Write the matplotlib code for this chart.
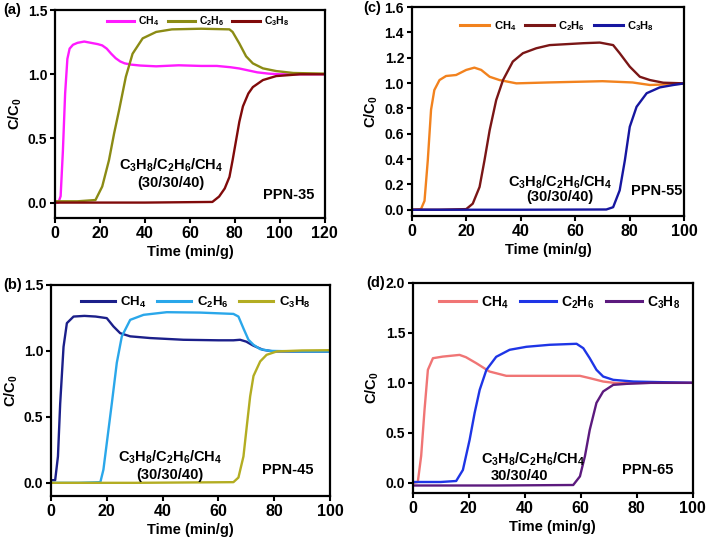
import matplotlib
matplotlib.use("Agg")
import matplotlib.pyplot as plt

plt.rcParams['font.family'] = ['Liberation Sans', 'DejaVu Sans']
plt.rcParams['font.weight'] = 'bold'
plt.rcParams['mathtext.fontset'] = 'custom'
plt.rcParams['mathtext.rm'] = 'Liberation Sans:bold'
plt.rcParams['mathtext.it'] = 'Liberation Sans:bold'
plt.rcParams['mathtext.bf'] = 'Liberation Sans:bold'
plt.rcParams['mathtext.default'] = 'rm'

# (a) PPN-35
a_ch4_x = [0, 1.5, 2.5, 3.5, 4.5, 5.5, 6.5, 8, 10, 13, 16, 19, 21, 23, 25, 27, 29, 31, 34, 38, 45, 55, 65, 72, 78, 82, 86, 90, 95, 100, 110, 120]
a_ch4_y = [0, 0, 0.05, 0.4, 0.85, 1.12, 1.2, 1.23, 1.245, 1.255, 1.245, 1.235, 1.225, 1.2, 1.16, 1.125, 1.1, 1.085, 1.075, 1.068, 1.062, 1.07, 1.065, 1.065, 1.055, 1.045, 1.03, 1.015, 1.005, 1.0, 1.0, 1.0]
a_c2h6_x = [0, 10, 18, 21, 24, 26.3, 28.5, 31.5, 34.5, 39, 45, 52, 65, 77.6, 79, 82, 85, 88, 92.5, 98.4, 106, 120]
a_c2h6_y = [0.01, 0.01, 0.02, 0.125, 0.33, 0.54, 0.72, 0.98, 1.16, 1.28, 1.33, 1.35, 1.355, 1.35, 1.33, 1.24, 1.14, 1.085, 1.046, 1.025, 1.01, 1.005]
a_c3h8_x = [0, 40, 70, 73, 75.5, 77.6, 79, 80.6, 82, 83.6, 86, 88, 92.5, 98.4, 109, 120]
a_c3h8_y = [0, 0, 0.005, 0.047, 0.11, 0.2, 0.33, 0.49, 0.63, 0.75, 0.85, 0.9, 0.955, 0.986, 1.0, 1.0]

# (b) PPN-45
b_ch4_x = [0, 1.5, 2.5, 3.3, 4.5, 5.7, 8.1, 12, 16, 20, 22.4, 24.8, 28.4, 35.6, 47.5, 60, 65.4, 67.8, 70, 72.5, 76, 79.7, 90, 100]
b_ch4_y = [0.02, 0.02, 0.2, 0.6, 1.03, 1.21, 1.26, 1.265, 1.26, 1.248, 1.185, 1.134, 1.11, 1.097, 1.084, 1.08, 1.08, 1.084, 1.07, 1.04, 1.008, 0.996, 0.995, 0.995]
b_c2h6_x = [0, 10, 17.7, 18.8, 20, 21.8, 23.6, 25.4, 28.4, 33.2, 41.5, 53.5, 65.4, 67.2, 69, 70.8, 72.6, 75, 78.5, 90, 100]
b_c2h6_y = [0, 0, 0.005, 0.1, 0.3, 0.6, 0.91, 1.11, 1.235, 1.273, 1.293, 1.29, 1.28, 1.26, 1.17, 1.084, 1.046, 1.013, 1.0, 0.995, 0.995]
b_c3h8_x = [0, 30, 65.4, 67.2, 69, 70.2, 71.4, 72.6, 75, 77.3, 81, 90, 100]
b_c3h8_y = [0, 0, 0.005, 0.04, 0.2, 0.43, 0.655, 0.81, 0.92, 0.97, 0.996, 1.003, 1.005]

# (c) PPN-55
c_ch4_x = [0, 3.4, 4.7, 5.9, 7.1, 8.3, 10.2, 12.6, 16.3, 20, 23, 25.5, 28.6, 32.2, 38.4, 50, 60, 70, 81, 87.4, 100]
c_ch4_y = [0, 0.005, 0.07, 0.39, 0.79, 0.945, 1.024, 1.056, 1.064, 1.104, 1.122, 1.104, 1.05, 1.024, 0.998, 1.005, 1.01, 1.015, 1.005, 0.985, 0.995]
c_c2h6_x = [0, 10, 20, 22.4, 24.9, 26.7, 28.6, 31, 33.5, 37.1, 40.8, 45.7, 50.6, 62.9, 69, 73.9, 76.3, 80, 83.7, 87.4, 92.3, 100]
c_c2h6_y = [0, 0, 0.005, 0.048, 0.18, 0.39, 0.628, 0.866, 1.024, 1.17, 1.236, 1.275, 1.3, 1.315, 1.32, 1.3, 1.236, 1.13, 1.05, 1.024, 1.003, 0.998]
c_c3h8_x = [0, 40, 71.4, 73.9, 76.3, 78.2, 80, 82.5, 86.2, 91, 96, 100]
c_c3h8_y = [0, 0, 0.002, 0.02, 0.153, 0.39, 0.655, 0.813, 0.92, 0.966, 0.985, 0.998]

# (d) PPN-65
d_ch4_x = [0, 1.8, 3, 4.2, 5.4, 7.2, 10.7, 16.7, 19, 22.7, 27.4, 33.4, 49, 59.7, 63.2, 68, 72.8, 85, 100]
d_ch4_y = [0, 0.01, 0.27, 0.73, 1.13, 1.246, 1.262, 1.279, 1.256, 1.196, 1.113, 1.07, 1.07, 1.07, 1.047, 1.013, 0.997, 1.0, 1.0]
d_c2h6_x = [0, 10, 15.5, 17.9, 20.3, 22.1, 23.9, 26.3, 29.8, 34.6, 40.6, 48.9, 58.5, 60.9, 63.2, 65.6, 68, 71.6, 78.8, 100]
d_c2h6_y = [0.01, 0.01, 0.02, 0.13, 0.43, 0.7, 0.93, 1.13, 1.26, 1.33, 1.36, 1.38, 1.39, 1.346, 1.246, 1.13, 1.063, 1.03, 1.013, 1.0]
d_c3h8_x = [0, 30, 57.3, 59.7, 61.5, 63.2, 65.6, 68, 71.6, 76.4, 85, 100]
d_c3h8_y = [-0.025, -0.025, -0.02, 0.066, 0.27, 0.53, 0.8, 0.914, 0.98, 0.99, 1.0, 1.0]

gas_labels = [r'CH$_4$', r'C$_2$H$_6$', r'C$_3$H$_8$']
mix_label = r'C$_3$H$_8$/C$_2$H$_6$/CH$_4$'

panels = [
    dict(tag='(a)', tag_xy=(3, 10), name='PPN-35', pos=[0.0777, 0.6015, 0.381, 0.380],
         series=[(a_ch4_x, a_ch4_y), (a_c2h6_x, a_c2h6_y), (a_c3h8_x, a_c3h8_y)],
         colors=['#ff1aff', '#8b8b14', '#800a0a'],
         xlim=(0, 120), xticks=[0, 20, 40, 60, 80, 100, 120],
         ylim=(-0.12, 1.5), yticks=[0.0, 0.5, 1.0, 1.5],
         mix_xy=(51.6, 0.29), ratio='(30/30/40)', ratio_xy=(51.6, 0.15),
         name_xy=(104, 0.06), leg=(0.53, 1.01), leg_fs=7.5),
    dict(tag='(c)', tag_xy=(363, 8), name='PPN-55', pos=[0.5815, 0.605, 0.385, 0.382],
         series=[(c_ch4_x, c_ch4_y), (c_c2h6_x, c_c2h6_y), (c_c3h8_x, c_c3h8_y)],
         colors=['#f2821e', '#7a1616', '#1616a0'],
         xlim=(0, 100), xticks=[0, 20, 40, 60, 80, 100],
         ylim=(-0.05, 1.6), yticks=[0.0, 0.2, 0.4, 0.6, 0.8, 1.0, 1.2, 1.4, 1.6],
         mix_xy=(54.3, 0.22), ratio='(30/30/40)', ratio_xy=(54.3, 0.10),
         name_xy=(89.8, 0.15), leg=(0.534, 0.975), leg_fs=8),
    dict(tag='(b)', tag_xy=(3, 285), name='PPN-45', pos=[0.072, 0.0932, 0.394, 0.386],
         series=[(b_ch4_x, b_ch4_y), (b_c2h6_x, b_c2h6_y), (b_c3h8_x, b_c3h8_y)],
         colors=['#1b1f8a', '#2aa7ea', '#b3ad22'],
         xlim=(0, 100), xticks=[0, 20, 40, 60, 80, 100],
         ylim=(-0.1, 1.5), yticks=[0.0, 0.5, 1.0, 1.5],
         mix_xy=(42.7, 0.19), ratio='(30/30/40)', ratio_xy=(42.7, 0.063),
         name_xy=(85, 0.10), leg=(0.518, 0.99), leg_fs=9.5),
    dict(tag='(d)', tag_xy=(366, 283), name='PPN-65', pos=[0.583, 0.0987, 0.3955, 0.3845],
         series=[(d_ch4_x, d_ch4_y), (d_c2h6_x, d_c2h6_y), (d_c3h8_x, d_c3h8_y)],
         colors=['#f07575', '#1e35e6', '#5c1a7e'],
         xlim=(0, 100), xticks=[0, 20, 40, 60, 80, 100],
         ylim=(-0.1, 2.0), yticks=[0.0, 0.5, 1.0, 1.5, 2.0],
         mix_xy=(43, 0.233), ratio='30/30/40', ratio_xy=(38.2, 0.066),
         name_xy=(84, 0.13), leg=(0.526, 0.985), leg_fs=10),
]

W, H = 708, 547
fig = plt.figure(figsize=(W / 100, H / 100), dpi=100)

for p in panels:
    ax = fig.add_axes(p['pos'])
    for (x, y), c, lab in zip(p['series'], p['colors'], gas_labels):
        ax.plot(x, y, color=c, lw=1.7, label=lab)
    ax.set_xlim(*p['xlim'])
    ax.set_ylim(*p['ylim'])
    ax.set_xticks(p['xticks'])
    ax.set_yticks(p['yticks'])
    ax.set_yticklabels(['%.1f' % v for v in p['yticks']])
    for s in ax.spines.values():
        s.set_linewidth(1.6)
    ax.tick_params(direction='out', length=3.5, width=1.5, pad=2)
    ax.tick_params(axis='x', labelsize=11.5)
    ax.tick_params(axis='y', labelsize=10)
    ax.set_xlabel('Time (min/g)', fontsize=10.5, fontweight='bold', labelpad=3)
    ax.set_ylabel(r'C/C$_0$', fontsize=10.5, fontweight='bold', labelpad=3)

    ax.text(*p['mix_xy'], mix_label, ha='center', va='center', fontsize=10.5)
    ax.text(*p['ratio_xy'], p['ratio'], ha='center', va='center', fontsize=10.5)
    ax.text(*p['name_xy'], p['name'], ha='center', va='center', fontsize=10.5)

    leg = ax.legend(loc='upper center', bbox_to_anchor=p['leg'], ncol=3, frameon=False,
                    fontsize=p['leg_fs'], handlelength=2.6, columnspacing=0.8,
                    handletextpad=0.4, borderaxespad=0.2)
    for h in leg.get_lines():
        h.set_linewidth(2.2)

    tx, ty = p['tag_xy']
    fig.text(tx / W, 1 - ty / H, p['tag'], ha='left', va='center',
             fontsize=10.5, fontweight='bold')

fig.savefig('out.png', dpi=100)
